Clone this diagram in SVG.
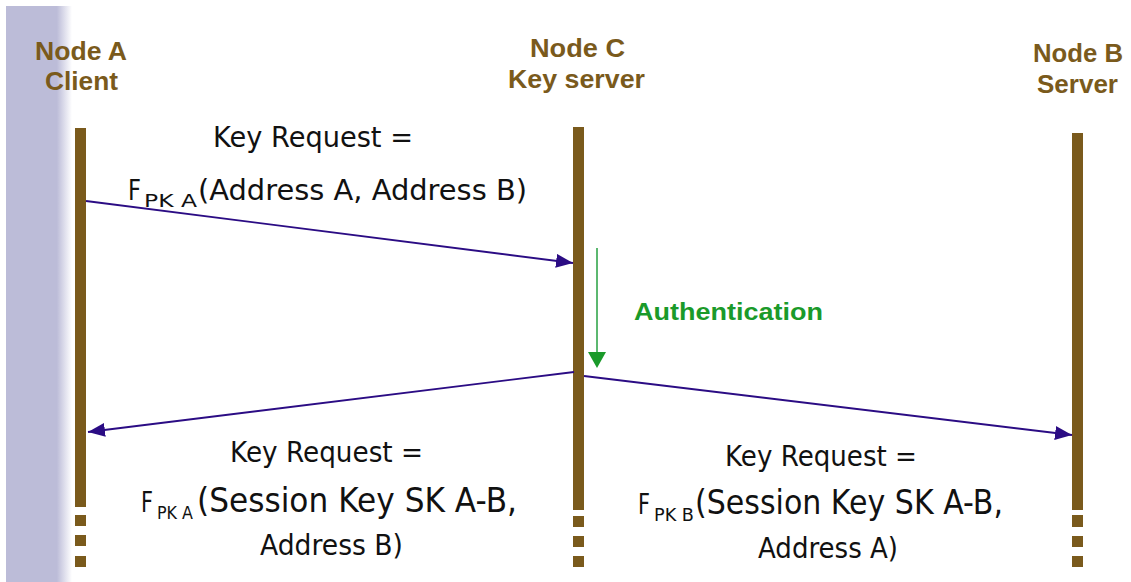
<svg xmlns="http://www.w3.org/2000/svg" width="1131" height="582" viewBox="0 0 1131 582">
<style>
.hdr{font-family:"Liberation Sans",Arial,sans-serif;font-weight:bold;font-size:25px;fill:#7a5a1c;text-anchor:start}
.lbl{font-family:"DejaVu Sans","Liberation Sans",sans-serif;font-size:28px;fill:#111}
.big{font-family:"DejaVu Sans","Liberation Sans",sans-serif;font-size:33px;fill:#111}
.sub{font-family:"DejaVu Sans","Liberation Sans",sans-serif;font-size:17px;fill:#111}
.life{fill:#7a5a1c}
.msg{stroke:#2b0c84;stroke-width:1.8;fill:none}
.auth{font-family:"Liberation Sans",Arial,sans-serif;font-weight:bold;font-size:24px;fill:#1a9a2a}
</style>
<defs>
<linearGradient id="band" x1="0" y1="0" x2="1" y2="0">
<stop offset="0" stop-color="#bcbcd8"/>
<stop offset="0.77" stop-color="#bcbcd8"/>
<stop offset="1" stop-color="#ffffff"/>
</linearGradient>
<marker id="ah" markerWidth="18" markerHeight="14" refX="17" refY="7" orient="auto" markerUnits="userSpaceOnUse">
<path d="M0,0 L17,7 L0,14 Z" fill="#2b0c84"/>
</marker>
</defs>
<rect x="0" y="0" width="1131" height="582" fill="#ffffff"/>
<rect x="6" y="6" width="66" height="576" fill="url(#band)"/>

<g id="nodeA">
<text class="hdr" x="35" y="60" textLength="92" lengthAdjust="spacingAndGlyphs">Node A</text>
<text class="hdr" x="45" y="90" textLength="73" lengthAdjust="spacingAndGlyphs">Client</text>
<rect class="life" x="75" y="128" width="11" height="379"/>
<rect class="life" x="75" y="515" width="11" height="11"/>
<rect class="life" x="75" y="535" width="11" height="11"/>
<rect class="life" x="75" y="556" width="11" height="11"/>
</g>

<g id="nodeC">
<text class="hdr" x="530" y="57" textLength="95" lengthAdjust="spacingAndGlyphs">Node C</text>
<text class="hdr" x="508" y="88" textLength="137" lengthAdjust="spacingAndGlyphs">Key server</text>
<rect class="life" x="573" y="127" width="11" height="383"/>
<rect class="life" x="573" y="516" width="11" height="11"/>
<rect class="life" x="573" y="536" width="11" height="11"/>
<rect class="life" x="573" y="556" width="11" height="11"/>
</g>

<g id="nodeB">
<text class="hdr" x="1033" y="62" textLength="90" lengthAdjust="spacingAndGlyphs">Node B</text>
<text class="hdr" x="1037" y="93" textLength="81" lengthAdjust="spacingAndGlyphs">Server</text>
<rect class="life" x="1072" y="133" width="11" height="377"/>
<rect class="life" x="1072" y="515" width="11" height="12"/>
<rect class="life" x="1072" y="536" width="11" height="11"/>
<rect class="life" x="1072" y="556" width="11" height="11"/>
</g>

<g id="connectors">
<line class="msg" x1="86" y1="201" x2="573" y2="263" marker-end="url(#ah)"/>
<line class="msg" x1="574" y1="372" x2="88" y2="432" marker-end="url(#ah)"/>
<line class="msg" x1="584" y1="376" x2="1072" y2="435" marker-end="url(#ah)"/>
<line x1="597" y1="248" x2="597" y2="355" stroke="#5cb870" stroke-width="2"/>
<path d="M588,352 L606,352 L597,368 Z" fill="#1a9a2a"/>
</g>

<g id="label-request">
<text class="lbl" x="213" y="147" textLength="200" lengthAdjust="spacingAndGlyphs">Key Request =</text>
<text class="lbl" x="128" y="200" textLength="13" lengthAdjust="spacingAndGlyphs">F</text>
<text class="sub" x="144" y="207" textLength="53" lengthAdjust="spacingAndGlyphs">PK A</text>
<text class="lbl" x="198" y="200" textLength="329" lengthAdjust="spacingAndGlyphs">(Address A, Address B)</text>
</g>

<g id="label-auth">
<text class="auth" x="634" y="320" textLength="189" lengthAdjust="spacingAndGlyphs">Authentication</text>
</g>

<g id="label-replyA">
<text class="lbl" x="230" y="462" textLength="193" lengthAdjust="spacingAndGlyphs">Key Request =</text>
<text class="lbl" x="141" y="512" textLength="12" lengthAdjust="spacingAndGlyphs">F</text>
<text class="sub" x="157" y="519" textLength="36" lengthAdjust="spacingAndGlyphs">PK A</text>
<text class="big" x="197" y="512" textLength="320" lengthAdjust="spacingAndGlyphs">(Session Key SK A-B,</text>
<text class="lbl" x="260" y="555" textLength="143" lengthAdjust="spacingAndGlyphs">Address B)</text>
</g>

<g id="label-replyB">
<text class="lbl" x="638" y="514" textLength="12" lengthAdjust="spacingAndGlyphs">F</text>
<text class="lbl" x="725" y="466" textLength="192" lengthAdjust="spacingAndGlyphs">Key Request =</text>
<text class="sub" x="654" y="521" textLength="40" lengthAdjust="spacingAndGlyphs">PK B</text>
<text class="big" x="695" y="514" textLength="308" lengthAdjust="spacingAndGlyphs">(Session Key SK A-B,</text>
<text class="lbl" x="758" y="558" textLength="140" lengthAdjust="spacingAndGlyphs">Address A)</text>
</g>
</svg>
